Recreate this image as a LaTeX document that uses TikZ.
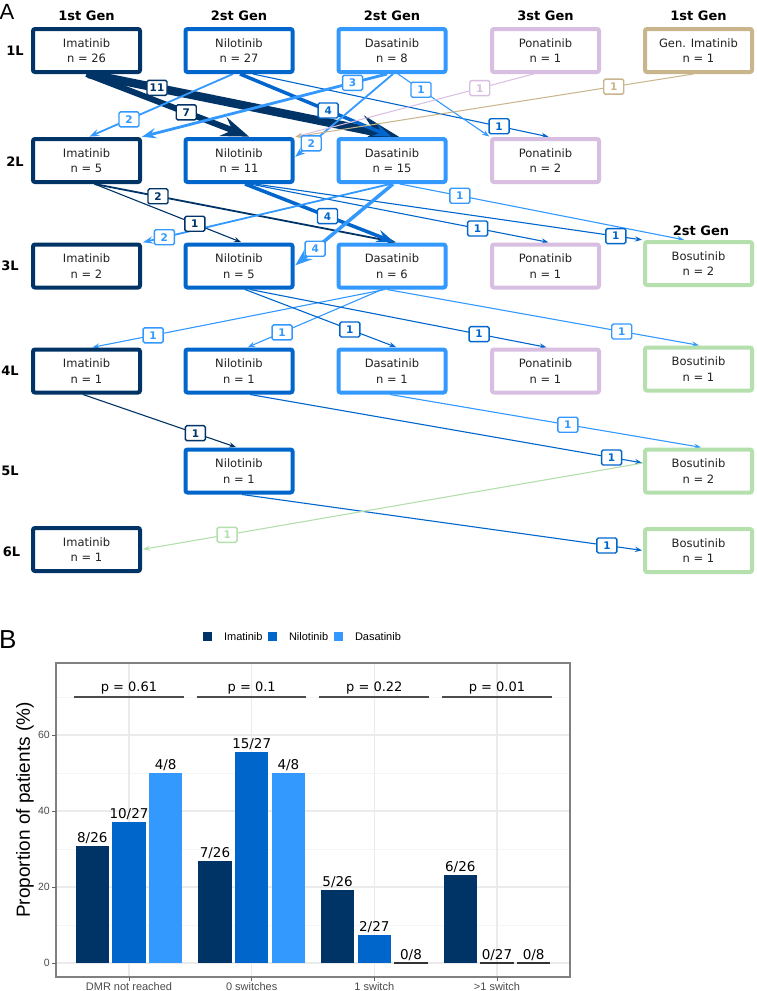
\documentclass[tikz,border=0pt]{standalone}
\usepackage{fontspec}
\setmainfont{DejaVu Sans}
\newfontfamily\arialf{Liberation Sans}
\usetikzlibrary{arrows.meta}
\definecolor{cIma}{HTML}{003366}
\definecolor{cNil}{HTML}{0066CC}
\definecolor{cDas}{HTML}{3399FF}
\definecolor{cPon}{HTML}{D8BFE2}
\definecolor{cGen}{HTML}{C8B58C}
\definecolor{cBos}{HTML}{B5E0AE}
\definecolor{gridmaj}{HTML}{EBEBEB}
\definecolor{gridmin}{HTML}{F5F5F5}
\definecolor{txtdark}{HTML}{222222}
\pgfdeclarelayer{bg}
\pgfdeclarelayer{edges}
\pgfsetlayers{bg,edges,main}
\tikzset{
  box/.style={draw=#1, line width=4pt, rounded corners=2pt, fill=white,
    minimum width=107pt, minimum height=43pt, align=center, inner sep=0pt,
    text=txtdark, font=\fontsize{11.5}{15.5}\selectfont},
  lab/.style={draw=#1, text=#1, fill=white, line width=1.4pt, rounded corners=1.5pt,
    font=\bfseries\fontsize{10.5}{10.5}\selectfont, minimum width=20pt,
    minimum height=15pt, inner sep=1pt},
  eline/.style={draw=#1, -{Stealth[length=2.5pt 4.2, width=2pt 3, inset=1pt 1.5]}, shorten >=1pt},
  hdr/.style={font=\bfseries\fontsize{13}{13}\selectfont, text=black, anchor=base},
  rowlab/.style={font=\bfseries\fontsize{13}{13}\selectfont, text=black, anchor=base},
  barlab/.style={font=\fontsize{13.5}{13.5}\selectfont, text=black, anchor=base},
  ptext/.style={font=\fontsize{13}{13}\selectfont, text=black, anchor=base},
  pline/.style={draw=black!70, line width=1.3pt},
  ticklab/.style={font=\arialf\fontsize{10.5}{10.5}\selectfont, text=black!70},
  xticklab/.style={font=\arialf\fontsize{11}{11}\selectfont, text=black!70},
  legtext/.style={font=\arialf\fontsize{11}{11}\selectfont, text=black, anchor=base west},
  tickmark/.style={draw=black!60, line width=0.8pt},
}
\newcommand\edg[6]{%
  \begin{pgfonlayer}{edges}\draw[eline=#1, line width=#2] #3 -- #4;\end{pgfonlayer}
  \path #3 -- node[lab=#1, pos=#5] {#6} #4;}
\newcommand\drawbar[4]{%
  \fill[#3] ({#1-16.7},963) rectangle ({#1+16.7},{963-3.8*#2});
  \node[barlab] at (#1,{963-3.8*#2-3.5}) {#4};}
\newcommand\drawzero[2]{%
  \draw[draw=black!80, line width=1.3pt] ({#1-16.7},963) -- ({#1+16.7},963);
  \node[barlab] at (#1,959.5) {#2};}
\begin{document}
\begin{tikzpicture}[x=1pt,y=-1pt]
\begin{pgfonlayer}{bg}
\fill[white] (0,0) rectangle (756,991);
\end{pgfonlayer}
\useasboundingbox (0,0) rectangle (756,991);

% panel labels
\node[font=\arialf\fontsize{22}{22}\selectfont, anchor=base west, inner sep=0pt] (labA) at (-0.5,19) {A};
\node[font=\arialf\fontsize{26}{26}\selectfont, anchor=base west, inner sep=0pt] (labB) at (-1,648) {B};

% headers
\node[hdr] (h1) at (86.5,20.5) {1st Gen};
\node[hdr] (h2) at (239,20.5) {2st Gen};
\node[hdr] (h3) at (392,20.5) {2st Gen};
\node[hdr] (h4) at (545.5,20.5) {3st Gen};
\node[hdr] (h5) at (698.5,20.5) {1st Gen};
\node[hdr] (h6) at (701,235) {2st Gen};

% row labels
\node[rowlab] (r1) at (15,55.5) {1L};
\node[rowlab] (r2) at (15,166) {2L};
\node[rowlab] (r3) at (10,270.5) {3L};
\node[rowlab] (r4) at (10,375.5) {4L};
\node[rowlab] (r5) at (10,475.5) {5L};
\node[rowlab] (r6) at (11.5,556) {6L};

% boxes
\node[box=cIma] (ima1) at (86.5,50.5) {Imatinib\\n = 26};
\node[box=cNil] (nil1) at (239,50.5) {Nilotinib\\n = 27};
\node[box=cDas] (das1) at (392,50.5) {Dasatinib\\n = 8};
\node[box=cPon] (pon1) at (545.5,50.5) {Ponatinib\\n = 1};
\node[box=cGen] (gim1) at (698.5,50.5) {Gen. Imatinib\\n = 1};

\node[box=cIma] (ima2) at (86.5,160.5) {Imatinib\\n = 5};
\node[box=cNil] (nil2) at (239,160.5) {Nilotinib\\n = 11};
\node[box=cDas] (das2) at (392,160.5) {Dasatinib\\n = 15};
\node[box=cPon] (pon2) at (545.5,160.5) {Ponatinib\\n = 2};

\node[box=cIma] (ima3) at (86.5,266) {Imatinib\\n = 2};
\node[box=cNil] (nil3) at (239,266) {Nilotinib\\n = 5};
\node[box=cDas] (das3) at (392,266) {Dasatinib\\n = 6};
\node[box=cPon] (pon3) at (545.5,266) {Ponatinib\\n = 1};
\node[box=cBos] (bos3) at (698.5,263.5) {Bosutinib\\n = 2};

\node[box=cIma] (ima4) at (86.5,371) {Imatinib\\n = 1};
\node[box=cNil] (nil4) at (239,371) {Nilotinib\\n = 1};
\node[box=cDas] (das4) at (392,371) {Dasatinib\\n = 1};
\node[box=cPon] (pon4) at (545.5,371) {Ponatinib\\n = 1};
\node[box=cBos] (bos4) at (698.5,369) {Bosutinib\\n = 1};

\node[box=cNil] (nil5) at (239,471) {Nilotinib\\n = 1};
\node[box=cBos] (bos5) at (698.5,471) {Bosutinib\\n = 2};

\node[box=cIma] (ima6) at (86.5,549.5) {Imatinib\\n = 1};
\node[box=cBos] (bos6) at (698.5,550.5) {Bosutinib\\n = 1};

% edges from 1L
\edg{cIma}{8.5pt}{([xshift=2pt]ima1.south)}{([xshift=8pt]das2.north)}{0.22}{11}
\edg{cIma}{6pt}{(ima1.south)}{([xshift=11pt]nil2.north)}{0.61}{7}
\edg{cDas}{1.8pt}{([xshift=-6pt]nil1.south)}{([xshift=2pt]ima2.north)}{0.72}{2}
\edg{cNil}{3.5pt}{([xshift=1pt]nil1.south)}{(das2.north)}{0.58}{4}
\edg{cNil}{1.1pt}{([xshift=14pt]nil1.south)}{([xshift=4pt]pon2.north)}{0.83}{1}
\edg{cDas}{2.8pt}{([xshift=-5pt]das1.south)}{([xshift=-1pt]ima2.north east)}{0.14}{3}
\edg{cDas}{1.8pt}{([xshift=1pt]das1.south)}{([yshift=3pt]nil2.east)}{0.83}{2}
\edg{cDas}{1.1pt}{([xshift=6pt]das1.south)}{(pon2.north west)}{0.25}{1}
\edg{cPon}{1pt}{([xshift=-12pt]pon1.south)}{(nil2.north east)}{0.225}{1}
\edg{cGen}{1pt}{([xshift=-5pt]gim1.south)}{(nil2.north east)}{0.2}{1}

% edges from 2L
\edg{cIma}{1.1pt}{([xshift=8pt]ima2.south)}{([xshift=3pt]nil3.north)}{0.68}{1}
\edg{cIma}{1.8pt}{([xshift=8pt]ima2.south)}{([xshift=5pt]das3.north)}{0.21}{2}
\edg{cNil}{3.5pt}{([xshift=6pt]nil2.south)}{([xshift=3pt]das3.north)}{0.55}{4}
\edg{cNil}{1.1pt}{([xshift=11pt]nil2.south)}{([xshift=4pt]pon3.north)}{0.76}{1}
\edg{cNil}{1.1pt}{([xshift=16pt]nil2.south)}{(bos3.north west)}{0.93}{1}
\edg{cDas}{1.8pt}{([xshift=-2pt]das2.south)}{(ima3.north east)}{0.91}{2}
\edg{cDas}{3.5pt}{([xshift=1pt]das2.south)}{(nil3.east)}{0.79}{4}
\edg{cDas}{1.1pt}{([xshift=8pt]das2.south)}{([xshift=-13.5pt]bos3.north)}{0.21}{1}

% edges from 3L
\edg{cDas}{1.1pt}{([xshift=-7pt]das3.south)}{([xshift=5pt]ima4.north)}{0.79}{1}
\edg{cDas}{1.1pt}{([xshift=-10pt]das3.south)}{([xshift=8pt]nil4.north)}{0.74}{1}
\edg{cDas}{1.1pt}{([xshift=-5pt]das3.south)}{([xshift=1.5pt]bos4.north)}{0.75}{1}
\edg{cNil}{1.1pt}{([xshift=6pt]nil3.south)}{([xshift=5pt]das4.north)}{0.69}{1}
\edg{cNil}{1.1pt}{([xshift=11pt]nil3.south)}{([xshift=2pt]pon4.north)}{0.77}{1}

% edges from 4L
\edg{cIma}{1.1pt}{([xshift=-3.5pt]ima4.south)}{([xshift=-2pt]nil5.north)}{0.73}{1}
\edg{cNil}{1.1pt}{([xshift=11pt]nil4.south)}{([yshift=8pt]bos5.west)}{0.92}{1}
\edg{cDas}{1.1pt}{([xshift=-2pt]das4.south)}{([xshift=3.5pt]bos5.north)}{0.57}{1}

% edges from 5L
\edg{cNil}{1.1pt}{([xshift=3pt]nil5.south)}{(bos6.west)}{0.91}{1}
\edg{cBos}{1.1pt}{([yshift=8pt]bos5.west)}{(ima6.east)}{0.83}{1}

% ---------- panel B ----------
% legend
\fill[cIma] (203,631.5) rectangle (212,640.5);
\node[legtext] (lg1) at (220.5,640) {Imatinib};
\fill[cNil] (268,631.5) rectangle (277,640.5);
\node[legtext] (lg2) at (285.5,640) {Nilotinib};
\fill[cDas] (334,631.5) rectangle (343,640.5);
\node[legtext] (lg3) at (351.5,640) {Dasatinib};

% grid
\foreach \v in {10,30,50,70} \draw[gridmin, line width=0.7pt] (56,{963-3.8*\v}) -- (570,{963-3.8*\v});
\foreach \v in {0,20,40,60} \draw[gridmaj, line width=1.1pt] (56,{963-3.8*\v}) -- (570,{963-3.8*\v});
\foreach \c in {129,251.7,374.3,497} \draw[gridmaj, line width=1.1pt] (\c,663) -- (\c,977);

% bars
\drawbar{92.3}{30.77}{cIma}{8/26}
\drawbar{129}{37.04}{cNil}{10/27}
\drawbar{165.7}{50}{cDas}{4/8}
\drawbar{215}{26.92}{cIma}{7/26}
\drawbar{251.7}{55.56}{cNil}{15/27}
\drawbar{288.4}{50}{cDas}{4/8}
\drawbar{337.6}{19.23}{cIma}{5/26}
\drawbar{374.3}{7.41}{cNil}{2/27}
\drawzero{411}{0/8}
\drawbar{460.3}{23.08}{cIma}{6/26}
\drawzero{497}{0/27}
\drawzero{533.7}{0/8}

% p-values
\foreach \c/\p in {129/0.61,251.7/0.1,374.3/0.22,497/0.01}{
  \draw[pline] ({\c-55},697) -- ({\c+54.5},697);
  \node[ptext] at (\c,691.5) {p = \p};
}

% panel border
\draw[draw=black!50, line width=1.1pt] (56,663) rectangle (570,977);

% y ticks
\foreach \v in {0,20,40,60}{
  \draw[tickmark] (52,{963-3.8*\v}) -- (56,{963-3.8*\v});
  \node[ticklab, anchor=east, inner sep=0pt] at (50,{963-3.8*\v}) {\v};
}
% x ticks
\foreach \c/\t in {129/DMR not reached,251.7/0 switches,374.3/1 switch,497/>1 switch}{
  \draw[tickmark] (\c,977) -- (\c,981);
  \node[xticklab, anchor=north, inner sep=0pt] at (\c,982) {\t};
}
% y title
\node[rotate=90, font=\arialf\fontsize{19}{19}\selectfont, text=black] (ytitle) at (25,810) {Proportion of patients (\%)};
\end{tikzpicture}
\end{document}
